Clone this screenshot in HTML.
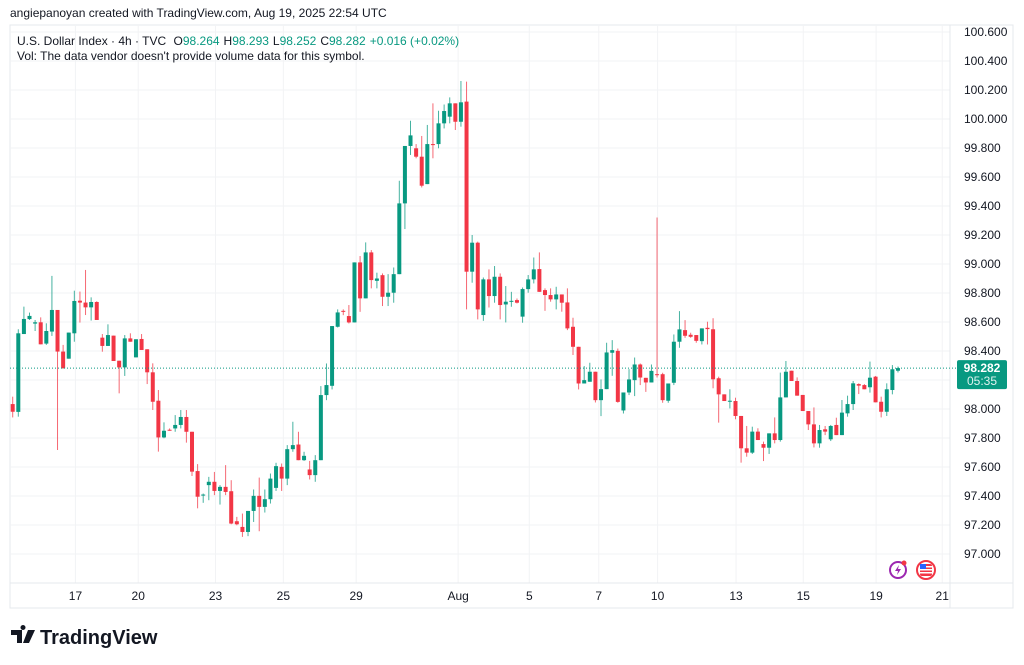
<!DOCTYPE html>
<html><head><meta charset="utf-8"><style>
body{margin:0;background:#fff;width:1024px;height:665px;overflow:hidden;font-family:"Liberation Sans",sans-serif}
svg{position:absolute;left:0;top:0}
</style></head><body>
<svg id="c" width="1024" height="665">
<text x="10" y="17" font-size="12" fill="#131722">angiepanoyan created with TradingView.com, Aug 19, 2025 22:54 UTC</text>
<rect x="10" y="25" width="1003" height="583" fill="none" stroke="#e6e8ec"/>
<g id="grid"></g>
<g id="candles"></g>
<g id="axes"></g>
<text x="17" y="45" font-size="12" fill="#131722">U.S. Dollar Index · 4h · TVC <tspan dx="4">O</tspan><tspan fill="#089981">98.264</tspan><tspan dx="4">H</tspan><tspan fill="#089981">98.293</tspan><tspan dx="4">L</tspan><tspan fill="#089981">98.252</tspan><tspan dx="4">C</tspan><tspan fill="#089981">98.282</tspan><tspan dx="4" fill="#089981">+0.016 (+0.02%)</tspan></text>
<text x="17" y="60" font-size="12" fill="#131722">Vol: The data vendor doesn't provide volume data for this symbol.</text>
<g>
<path d="M11 630h11v13h-5v-8h-6z M23 630a2.5 2.5 0 1 1 0.01 0z M28 630h7l-6 13h-6z" fill="#131722"/>
<text x="40" y="644" font-size="20" font-weight="bold" fill="#131722">TradingView</text>
</g>
<g><circle cx="898" cy="570" r="8" fill="none" stroke="#9c27b0" stroke-width="2"/><path d="M899 565l-4 6h3l-1 4 4-6h-3z" fill="#9c27b0"/><circle cx="904" cy="563" r="2.5" fill="#f23645"/></g>
<g><circle cx="926" cy="570" r="9" fill="none" stroke="#f23645" stroke-width="2"/><rect x="920" y="564" width="12" height="12" rx="2" fill="#f23645"/><rect x="920" y="566" width="12" height="1.5" fill="#fff"/><rect x="920" y="569" width="12" height="1.5" fill="#fff"/><rect x="920" y="572" width="12" height="1.5" fill="#fff"/><rect x="920" y="564" width="6" height="5" fill="#2962ff"/></g>
</svg>
<script>
const opens=[98.034,97.98,98.517,98.62,98.589,98.598,98.451,98.534,98.683,98.396,98.347,98.522,98.747,98.734,98.701,98.738,98.492,98.435,98.506,98.333,98.287,98.487,98.356,98.483,98.412,98.253,98.057,97.804,97.857,97.866,97.89,97.945,97.843,97.572,97.403,97.475,97.498,97.435,97.463,97.433,97.226,97.187,97.152,97.297,97.401,97.325,97.378,97.456,97.601,97.52,97.723,97.755,97.647,97.583,97.544,97.647,98.096,98.16,98.567,98.677,98.641,98.597,99.011,98.763,99.08,98.884,98.923,98.774,98.802,98.93,99.418,99.814,99.798,99.74,99.551,99.827,99.827,99.97,100.016,100.108,99.981,100.12,98.947,99.147,98.648,98.894,98.779,98.912,98.721,98.74,98.751,98.637,98.827,98.894,98.965,98.82,98.786,98.756,98.79,98.735,98.567,98.429,98.176,98.188,98.257,98.061,98.137,98.388,98.401,97.99,98.114,98.199,98.307,98.215,98.183,98.24,98.24,98.057,98.181,98.464,98.544,98.512,98.51,98.468,98.56,98.55,98.212,98.101,98.05,98.055,97.952,97.729,97.699,97.844,97.758,97.733,97.832,97.786,98.08,98.264,98.193,98.097,97.986,97.894,97.763,97.86,97.791,97.89,97.82,97.97,98.034,98.172,98.165,98.15,98.223,98.05,97.981,98.131,98.264];
const highs=[98.085,98.55,98.706,98.665,98.614,98.632,98.591,98.918,98.683,98.442,98.527,98.816,98.81,98.959,98.77,98.743,98.517,98.584,98.506,98.333,98.51,98.522,98.481,98.517,98.412,98.315,98.131,97.908,97.866,97.958,97.993,97.993,97.843,97.62,97.417,97.532,97.566,97.475,97.613,97.509,97.256,97.279,97.297,97.445,97.527,97.445,97.555,97.629,97.624,97.751,97.912,97.843,97.705,97.642,97.682,98.158,98.314,98.572,98.687,98.687,98.717,99.011,99.055,99.149,99.096,98.94,98.935,98.93,98.976,99.574,99.814,99.988,99.827,99.883,99.959,100.108,100.057,100.1,100.149,100.108,100.262,100.258,99.2,99.154,98.907,98.963,98.986,98.935,98.848,98.808,98.762,98.838,98.924,99.045,99.08,98.832,98.832,98.843,98.79,98.832,98.629,98.429,98.296,98.319,98.257,98.204,98.457,98.475,98.417,98.114,98.275,98.355,98.314,98.215,98.307,99.321,98.25,98.176,98.514,98.675,98.613,98.526,98.51,98.556,98.602,98.626,98.223,98.101,98.136,98.078,97.952,97.883,97.878,97.867,97.775,97.832,97.942,98.251,98.331,98.264,98.218,98.097,97.986,98.011,97.89,97.883,97.89,97.94,98.062,98.092,98.193,98.177,98.172,98.327,98.228,98.085,98.177,98.303,98.293];
const lows=[97.942,97.947,98.517,98.614,98.538,98.446,98.442,98.504,97.717,98.28,98.347,98.464,98.596,98.648,98.61,98.614,98.395,98.435,98.331,98.108,98.228,98.464,98.356,98.407,98.172,97.993,97.706,97.798,97.85,97.843,97.866,97.768,97.538,97.315,97.353,97.371,97.406,97.341,97.406,97.205,97.198,97.118,97.123,97.221,97.157,97.286,97.348,97.435,97.435,97.475,97.705,97.647,97.642,97.514,97.498,97.647,98.061,98.135,98.562,98.647,98.59,98.597,98.67,98.763,98.832,98.832,98.71,98.71,98.733,98.93,99.241,99.752,99.729,99.528,99.551,99.729,99.798,99.935,99.97,99.924,99.947,98.687,98.871,98.618,98.608,98.70,98.733,98.618,98.597,98.705,98.728,98.595,98.802,98.866,98.808,98.677,98.74,98.687,98.671,98.544,98.372,98.135,98.176,98.188,98.045,97.951,98.137,98.229,98.043,97.969,98.096,98.089,98.165,98.118,98.183,98.217,98.043,98.043,98.165,98.422,98.491,98.491,98.457,98.445,98.445,98.143,97.906,98.055,98.004,97.929,97.63,97.671,97.69,97.786,97.641,97.69,97.763,97.775,98.08,98.193,98.092,97.986,97.855,97.735,97.733,97.82,97.779,97.82,97.82,97.947,97.993,98.103,98.136,98.113,98.046,97.942,97.952,98.101,98.252];
const closes=[97.981,98.522,98.621,98.642,98.598,98.446,98.538,98.683,98.396,98.28,98.527,98.745,98.734,98.701,98.738,98.614,98.435,98.51,98.331,98.287,98.487,98.464,98.481,98.407,98.253,98.05,97.804,97.85,97.85,97.89,97.945,97.843,97.568,97.395,97.41,97.498,97.435,97.463,97.428,97.21,97.205,97.152,97.297,97.401,97.325,97.378,97.52,97.606,97.52,97.723,97.751,97.647,97.677,97.544,97.647,98.096,98.165,98.572,98.666,98.67,98.597,99.011,98.763,99.08,98.889,98.9,98.774,98.802,98.93,99.418,99.814,99.887,99.74,99.54,99.827,99.82,99.97,100.055,100.108,99.981,100.115,98.947,99.147,98.687,98.894,98.779,98.912,98.717,98.74,98.746,98.733,98.827,98.894,98.963,98.808,98.786,98.756,98.79,98.733,98.556,98.429,98.176,98.199,98.257,98.061,98.137,98.39,98.406,98.049,98.114,98.204,98.307,98.217,98.183,98.263,98.236,98.061,98.176,98.464,98.549,98.505,98.498,98.47,98.556,98.551,98.205,98.101,98.055,98.057,97.952,97.729,97.699,97.844,97.786,97.733,97.832,97.786,98.08,98.257,98.193,98.092,97.986,97.894,97.763,97.855,97.844,97.883,97.82,97.975,98.034,98.177,98.161,98.136,98.216,98.046,97.981,98.136,98.274,98.282];
const priceTicks=[100.6,100.4,100.2,100.0,99.8,99.6,99.4,99.2,99.0,98.8,98.6,98.4,98.2,98.0,97.8,97.6,97.4,97.2,97.0];
const timeLabels=["17","20","23","25","29","Aug","5","7","10","13","15","19","21"];
const timeLabelIdx=[11.2,22.4,36.2,48.3,61.3,79.5,92.2,104.6,115.1,129.1,141.1,154.1,165.9];
const NS="http://www.w3.org/2000/svg";
const yS=p=>32+(100.6-p)*145;
const xS=i=>12.7+i*5.603;
function mk(t,a,parent){const e=document.createElementNS(NS,t);for(const k in a)e.setAttribute(k,a[k]);parent.appendChild(e);return e;}
const grid=document.getElementById('grid'),cg=document.getElementById('candles'),ax=document.getElementById('axes');
priceTicks.forEach(p=>{
  const l=mk('line',{x1:10,x2:950,y1:yS(p),y2:yS(p),stroke:'#f2f3f5'},grid);
  
  
  if(Math.abs(yS(p)-368)<10)return;
  const t=mk('text',{x:964,y:yS(p)+4,'font-size':12,fill:'#131722'},ax);
  t.textContent=p.toFixed(3);
  
  
});
timeLabels.forEach((s,k)=>{
  const x=xS(timeLabelIdx[k]);
  const l=mk('line',{x1:x,x2:x,y1:25,y2:583,stroke:'#f2f3f5'},grid);
  
  
  const t=mk('text',{x:x,y:600,'font-size':12,fill:'#131722','text-anchor':'middle'},ax);
  t.textContent=s;
  
  
});
const lb=mk('line',{x1:10,x2:1013,y1:583,y2:583,stroke:'#e6e8ec'},grid);


const lr=mk('line',{x1:950,x2:950,y1:25,y2:608,stroke:'#e6e8ec'},grid);


opens.forEach((o,i)=>{
  const c=closes[i],up=c>=o,col=up?'#089981':'#F23645',x=xS(i);
  const w=mk('line',{x1:x,x2:x,y1:yS(highs[i]),y2:yS(lows[i]),stroke:col,'stroke-width':1,opacity:0.75},cg);
  
  
  const top=yS(Math.max(o,c)),h=Math.max(1,Math.abs(yS(o)-yS(c)));
  const b=mk('rect',{x:x-2,y:top,width:4,height:h,fill:col},cg);
  
  
});
const last=closes[closes.length-1];
const pl=mk('line',{x1:10,x2:956,y1:yS(last),y2:yS(last),stroke:'#089981','stroke-dasharray':'1,2'},ax);


const bx=mk('rect',{x:957,y:yS(last)-8,width:50,height:29,fill:'#089981',rx:2},ax);


const t1=mk('text',{x:982,y:yS(last)+4,'font-size':12,fill:'#fff','text-anchor':'middle','font-weight':'bold'},ax);
t1.textContent=last.toFixed(3);


const t2=mk('text',{x:982,y:yS(last)+17,'font-size':12,fill:'#e0f2ef','text-anchor':'middle'},ax);
t2.textContent='05:35';


</script>
</body></html>
